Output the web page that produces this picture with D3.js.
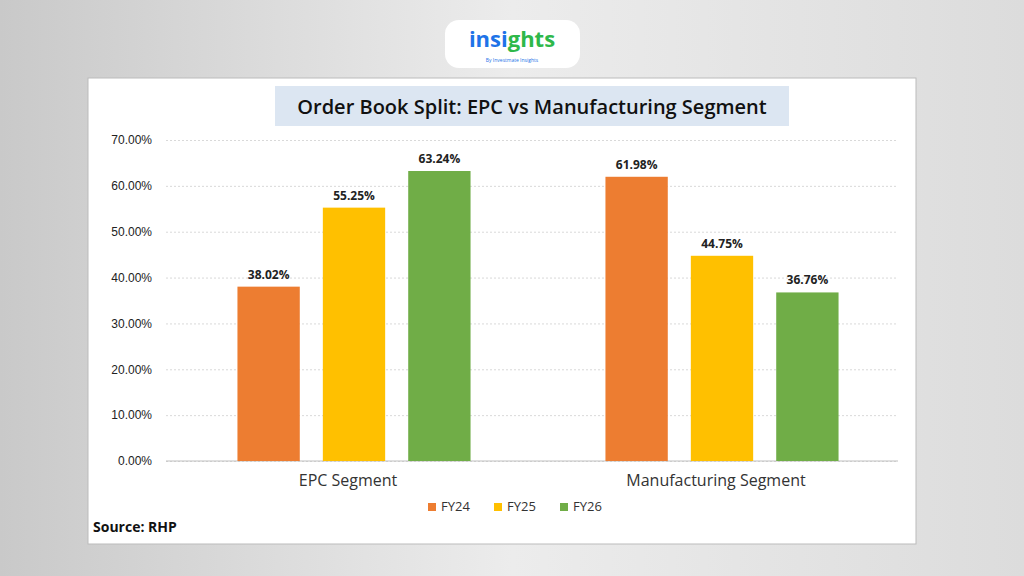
<!DOCTYPE html>
<html><head><meta charset="utf-8">
<script src="https://cdn.jsdelivr.net/npm/d3@7"></script>
<style>body{margin:0;background:#e4e4e4;font-family:"Open Sans",sans-serif}</style>
</head><body>
<script>
var categories = ["EPC Segment", "Manufacturing Segment"],
    seriesNames = ["FY24", "FY25", "FY26"],
    colors = ["#ed7d31", "#ffc000", "#70ad47"],
    values = [[38.02, 55.25, 63.24], [61.98, 44.75, 36.76]],
    ticks = [0, 10, 20, 30, 40, 50, 60, 70];

var svg = d3.select("body").append("svg").attr("width", 1024).attr("height", 576);
var bg = svg.append("defs").append("linearGradient").attr("id", "bg");
bg.append("stop").attr("offset", 0).attr("stop-color", "#c9c9c9");
bg.append("stop").attr("offset", 0.5).attr("stop-color", "#ececec");
bg.append("stop").attr("offset", 1).attr("stop-color", "#dcdcdc");
svg.append("rect").attr("width", 1024).attr("height", 576).attr("fill", "url(#bg)");

// logo
svg.append("rect").attr("x", 445).attr("y", 20).attr("width", 135).attr("height", 48).attr("rx", 14).attr("fill", "#fff");
var logo = svg.append("text").attr("x", 512).attr("y", 47).attr("text-anchor", "middle")
  .style("font-size", "22px").style("font-weight", "bold");
logo.append("tspan").attr("fill", "#1e73e8").text("insi");
logo.append("tspan").attr("fill", "#2eb84a").text("ghts");
svg.append("text").attr("x", 512).attr("y", 62).attr("text-anchor", "middle")
  .style("font-size", "5px").attr("fill", "#1e73e8").text("By Investmate Insights");

// panel
svg.append("rect").attr("x", 88).attr("y", 78).attr("width", 828).attr("height", 466).attr("fill", "#fff")
  .attr("stroke", "#bbb");
svg.append("rect").attr("x", 275).attr("y", 86).attr("width", 514).attr("height", 40).attr("fill", "#dce6f2");
svg.append("text").attr("x", 532).attr("y", 114).attr("text-anchor", "middle")
  .style("font-size", "20px").style("font-weight", "600").attr("fill", "#111")
  .text("Order Book Split: EPC vs Manufacturing Segment");

var m = {l: 166, r: 898, t: 140, b: 461};
var y = d3.scaleLinear().domain([0, 70]).range([m.b, m.t]);
var x0 = d3.scaleBand().domain(categories).range([170, 906]);
var x1 = d3.scaleBand().domain(seriesNames).range([0, x0.bandwidth()]).paddingInner(0.27).paddingOuter(0.79);

var yAxis = svg.append("g").attr("transform", "translate(" + m.l + ",0)")
  .call(d3.axisLeft(y).tickValues(ticks).tickSize(-(m.r - m.l)).tickFormat(function(d){ return d.toFixed(2) + "%"; }));
yAxis.select(".domain").remove();
yAxis.selectAll(".tick line").attr("stroke", "#d9d9d9").attr("stroke-dasharray", "2,2");
yAxis.selectAll(".tick text").attr("x", -14).style("font-size", "12px").attr("fill", "#222");
svg.append("line").attr("x1", m.l).attr("x2", m.r).attr("y1", m.b).attr("y2", m.b).attr("stroke", "#bfbfbf");

var g = svg.selectAll(".cat").data(categories).enter().append("g")
  .attr("transform", function(d){ return "translate(" + x0(d) + ",0)"; });
g.selectAll("rect").data(function(d, i){ return values[i]; }).enter().append("rect")
  .attr("x", function(d, i){ return x1(seriesNames[i]); })
  .attr("width", x1.bandwidth())
  .attr("y", function(d){ return y(d); })
  .attr("height", function(d){ return m.b - y(d); })
  .attr("fill", function(d, i){ return colors[i]; });
g.selectAll(".lbl").data(function(d, i){ return values[i]; }).enter().append("text")
  .attr("x", function(d, i){ return x1(seriesNames[i]) + x1.bandwidth() / 2; })
  .attr("y", function(d){ return y(d) - 8; })
  .attr("text-anchor", "middle").style("font-size", "12px").style("font-weight", "bold")
  .attr("fill", "#222").text(function(d){ return d.toFixed(2) + "%"; });
g.append("text").attr("x", x0.bandwidth() / 2 - 6).attr("y", 486).attr("text-anchor", "middle")
  .style("font-size", "16px").attr("fill", "#333").text(function(d){ return d; });

var lg = svg.selectAll(".lg").data(seriesNames).enter().append("g")
  .attr("transform", function(d, i){ return "translate(" + (428 + i * 66) + ",511)"; });
lg.append("rect").attr("y", -8).attr("width", 8).attr("height", 8).attr("fill", function(d, i){ return colors[i]; });
lg.append("text").attr("x", 13).attr("y", 0).style("font-size", "13px").attr("fill", "#333").text(function(d){ return d; });

svg.append("text").attr("x", 93).attr("y", 532).style("font-size", "14px").style("font-weight", "bold")
  .attr("fill", "#111").text("Source: RHP");
</script>
</body></html>
